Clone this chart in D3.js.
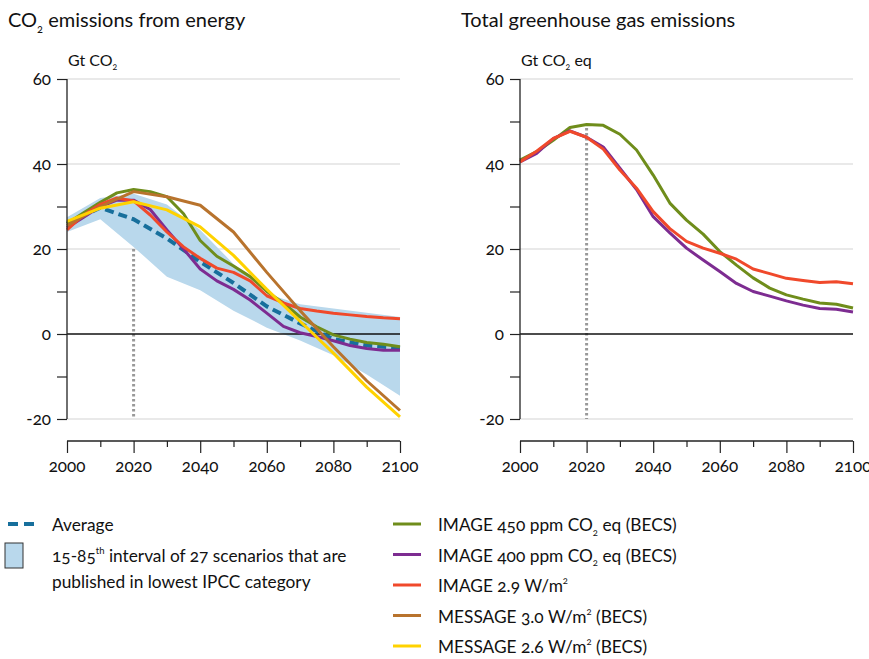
<!DOCTYPE html>
<html>
<head>
<meta charset="utf-8">
<script src="https://cdnjs.cloudflare.com/ajax/libs/d3/7.8.5/d3.min.js"></script>
<style>
    body { margin: 0; background: #fff; }
    svg text { font-family: Lato, "Open Sans", sans-serif; fill: #111; font-variant-numeric: oldstyle-nums; }
</style>
</head>
<body>
<div id="chart"></div>
<script>
// jaren
var years5 = [2000, 2005, 2010, 2015, 2020, 2025, 2030, 2035, 2040, 2045, 2050,
              2055, 2060, 2065, 2070, 2075, 2080, 2085, 2090, 2095, 2100];
var years10 = [2000, 2010, 2020, 2030, 2040, 2050, 2060, 2070, 2080, 2090, 2100];
var xTicks = [2000, 2020, 2040, 2060, 2080, 2100];
var yTicks = [60, 40, 20, 0, -20];

// CO2 uit energie (Gt CO2)
var bandHigh = [27.5, 32, 33, 30.5, 24.5, 16.5, 9.5, 7, 6, 5, 4];
var bandLow = [24, 27, 20.5, 13.5, 10.3, 5.5, 1.5, -1.5, -5, -9.5, -14.5];
var average = [26, 29.7, 27, 22.5, 17, 12, 6.5, 2.5, -1.2, -2.7, -3.3];
var co2Image450 = [26, 28.5, 31, 33.2, 34, 33.5, 32.3, 28.3, 22, 18.3, 16, 13.5, 10, 7.3, 4, 1.7, -0.2, -1.2, -2, -2.4, -3];
var co2Image400 = [25, 27.5, 30, 31.5, 31.5, 29.3, 24.5, 20, 15.3, 12.5, 10.5, 8, 4.9, 1.8, 0.3, -0.6, -1.6, -2.7, -3.4, -3.8, -3.8];
var co2Image29 = [24.5, 28, 30.5, 32, 31.3, 28, 24, 20.5, 17.8, 15.5, 14.5, 12.5, 9, 7.3, 6, 5.4, 4.9, 4.5, 4.1, 3.8, 3.6];
var co2Message30 = [25.5, 30, 33.5, 32.3, 30.3, 24, 14.5, 5.5, -3, -11, -18];
var co2Message26 = [26.5, 29.6, 31.1, 29.2, 25.2, 18.5, 10.5, 3, -4.5, -12.5, -19.5];

// totale broeikasgassen (Gt CO2 eq)
var ghgImage450 = [40.9, 42.9, 45.6, 48.6, 49.3, 49.1, 47, 43.3, 37.4, 30.8, 26.8, 23.5, 19.4, 16.2, 13.2, 10.8, 9.2, 8.2, 7.3, 7, 6.1];
var ghgImage400 = [40.5, 42.5, 46, 47.8, 46.3, 44, 39, 34, 27.6, 23.8, 20.2, 17.4, 14.7, 11.9, 10, 8.9, 7.8, 6.8, 6, 5.8, 5.2];
var ghgImage29 = [40.5, 43, 46, 47.7, 46.3, 43.5, 38.6, 34.3, 28.8, 24.8, 21.8, 20.2, 19, 17.6, 15.3, 14.2, 13.1, 12.6, 12.1, 12.3, 11.8];

var colors = {
    avg: "#176f9c",
    band: "#b9d8ec",
    i450: "#6f8d1b",
    i400: "#7d2c91",
    i29: "#f0492b",
    m30: "#b8732d",
    m26: "#ffd200"
};

var width = 869, height = 659;
var svg = d3.select("#chart").append("svg")
    .attr("width", width)
    .attr("height", height);

// tekst met sub/superscript, fs = lettergrootte in px
function richText(sel, parts, fs) {
    sel.attr("font-size", fs);
    var back = 0;
    parts.forEach(function (p) {
        var t = sel.append("tspan").text(p[0]);
        var shift = 0;
        if (p[1] === "sub") {
            shift = fs * 0.28;
            t.attr("font-size", fs * 0.55);
        } else if (p[1] === "sup") {
            shift = -fs * 0.45;
            t.attr("font-size", fs * 0.55);
        }
        if (shift - back !== 0) t.attr("dy", shift - back);
        back = shift;
    });
    return sel;
}

function drawPanel(x0, x1, title, unit, series, withBand, dotTop) {
    var x = d3.scaleLinear().domain([2000, 2100]).range([x0, x1]);
    var y = d3.scaleLinear().domain([-20, 60]).range([419, 79]);
    var g = svg.append("g");

    richText(g.append("text").attr("x", x0 - 59).attr("y", 27), title, 20);
    richText(g.append("text").attr("x", x0 + 1).attr("y", 66), unit, 16);

    // rasterlijnen
    g.selectAll(".grid").data([60, 40, 20, -20]).enter().append("line")
        .attr("x1", x0).attr("x2", x1)
        .attr("y1", function (d) { return y(d); })
        .attr("y2", function (d) { return y(d); })
        .attr("stroke", "#d4d4d4").attr("stroke-width", 1.2);

    if (withBand) {
        var area = d3.area()
            .x(function (d, i) { return x(years10[i]); })
            .y0(function (d, i) { return y(bandLow[i]); })
            .y1(function (d) { return y(d); });
        g.append("path").datum(bandHigh).attr("d", area).attr("fill", colors.band);
    }

    // stippellijn 2020
    g.append("line")
        .attr("x1", x(2020)).attr("x2", x(2020))
        .attr("y1", y(dotTop)).attr("y2", y(-20))
        .attr("stroke", "#999").attr("stroke-width", 3)
        .attr("stroke-dasharray", "2.5,2.5");

    // nullijn
    g.append("line").attr("x1", x0).attr("x2", x1)
        .attr("y1", y(0)).attr("y2", y(0))
        .attr("stroke", "#111").attr("stroke-width", 1.3);

    var line = d3.line()
        .x(function (d) { return x(d[0]); })
        .y(function (d) { return y(d[1]); });

    series.forEach(function (s) {
        g.append("path")
            .datum(s.years.map(function (yr, i) { return [yr, s.values[i]]; }))
            .attr("d", line)
            .attr("fill", "none")
            .attr("stroke", s.color)
            .attr("stroke-width", s.dash ? 4 : 3)
            .attr("stroke-dasharray", s.dash || null)
            .attr("stroke-linejoin", "round");
    });

    // y-as
    var yAxis = d3.axisLeft(y).tickValues(d3.range(-20, 61, 10)).tickSize(10).tickFormat("");
    var ya = g.append("g").attr("transform", "translate(" + x0 + ",0)").call(yAxis);
    ya.select(".domain").attr("d", "M0," + y(60) + "V" + y(-20)).attr("stroke", "#222").attr("stroke-width", 1.3);
    ya.selectAll(".tick line").attr("stroke", "#222").attr("stroke-width", 1.2);
    g.selectAll(".ylab").data(yTicks).enter().append("text")
        .attr("x", x0 - 16).attr("y", function (d) { return y(d); })
        .attr("dy", "0.35em").attr("text-anchor", "end").attr("font-size", 17)
        .text(function (d) { return d; });

    // x-as
    var xAxis = d3.axisBottom(x).tickValues(d3.range(2000, 2101, 10)).tickSize(6).tickFormat("");
    var xa = g.append("g").attr("transform", "translate(0,441)").call(xAxis);
    xa.select(".domain").attr("d", "M" + x0 + ",0H" + x1).attr("stroke", "#222").attr("stroke-width", 1.3);
    xa.selectAll(".tick line")
        .attr("y2", function (d) { return d % 20 === 0 ? 12 : 6; })
        .attr("stroke", "#222").attr("stroke-width", 1.2);
    g.selectAll(".xlab").data(xTicks).enter().append("text")
        .attr("x", function (d) { return x(d); }).attr("y", 472)
        .attr("text-anchor", "middle").attr("font-size", 17)
        .text(function (d) { return d; });
}

drawPanel(67, 400, [["CO"], ["2", "sub"], [" emissions from energy"]], [["Gt CO"], ["2", "sub"]], [
    {years: years10, values: average, color: colors.avg, dash: "9,5"},
    {years: years5, values: co2Image450, color: colors.i450},
    {years: years5, values: co2Image400, color: colors.i400},
    {years: years5, values: co2Image29, color: colors.i29},
    {years: years10, values: co2Message30, color: colors.m30},
    {years: years10, values: co2Message26, color: colors.m26}
], true, 20);

drawPanel(520, 853, [["Total greenhouse gas emissions"]], [["Gt CO"], ["2", "sub"], [" eq"]], [
    {years: years5, values: ghgImage450, color: colors.i450},
    {years: years5, values: ghgImage400, color: colors.i400},
    {years: years5, values: ghgImage29, color: colors.i29}
], false, 48.5);

// legenda links
var leg = svg.append("g");
leg.append("line").attr("x1", 8).attr("x2", 36).attr("y1", 524).attr("y2", 524)
    .attr("stroke", colors.avg).attr("stroke-width", 4).attr("stroke-dasharray", "10,6");
leg.append("text").attr("x", 52).attr("y", 531).attr("font-size", 17.3).text("Average");
leg.append("rect").attr("x", 5).attr("y", 543).attr("width", 18).attr("height", 25)
    .attr("fill", colors.band).attr("stroke", "#333").attr("stroke-width", 1);
richText(leg.append("text").attr("x", 52).attr("y", 562),
    [["15-85"], ["th", "sup"], [" interval of 27 scenarios that are"]], 17.3);
leg.append("text").attr("x", 52).attr("y", 588).attr("font-size", 17.3).text("published in lowest IPCC category");

// legenda rechts
var legItems = [
    {color: colors.i450, label: [["IMAGE 450 ppm CO"], ["2", "sub"], [" eq (BECS)"]]},
    {color: colors.i400, label: [["IMAGE 400 ppm CO"], ["2", "sub"], [" eq (BECS)"]]},
    {color: colors.i29, label: [["IMAGE 2.9 W/m"], ["2", "sup"]]},
    {color: colors.m30, label: [["MESSAGE 3.0 W/m"], ["2", "sup"], [" (BECS)"]]},
    {color: colors.m26, label: [["MESSAGE 2.6 W/m"], ["2", "sup"], [" (BECS)"]]}
];
legItems.forEach(function (d, i) {
    var yy = 524 + i * 30.5;
    leg.append("line").attr("x1", 393).attr("x2", 421).attr("y1", yy).attr("y2", yy)
        .attr("stroke", d.color).attr("stroke-width", 3);
    richText(leg.append("text").attr("x", 438).attr("y", yy + 7), d.label, 17.3);
});
</script>
</body>
</html>
